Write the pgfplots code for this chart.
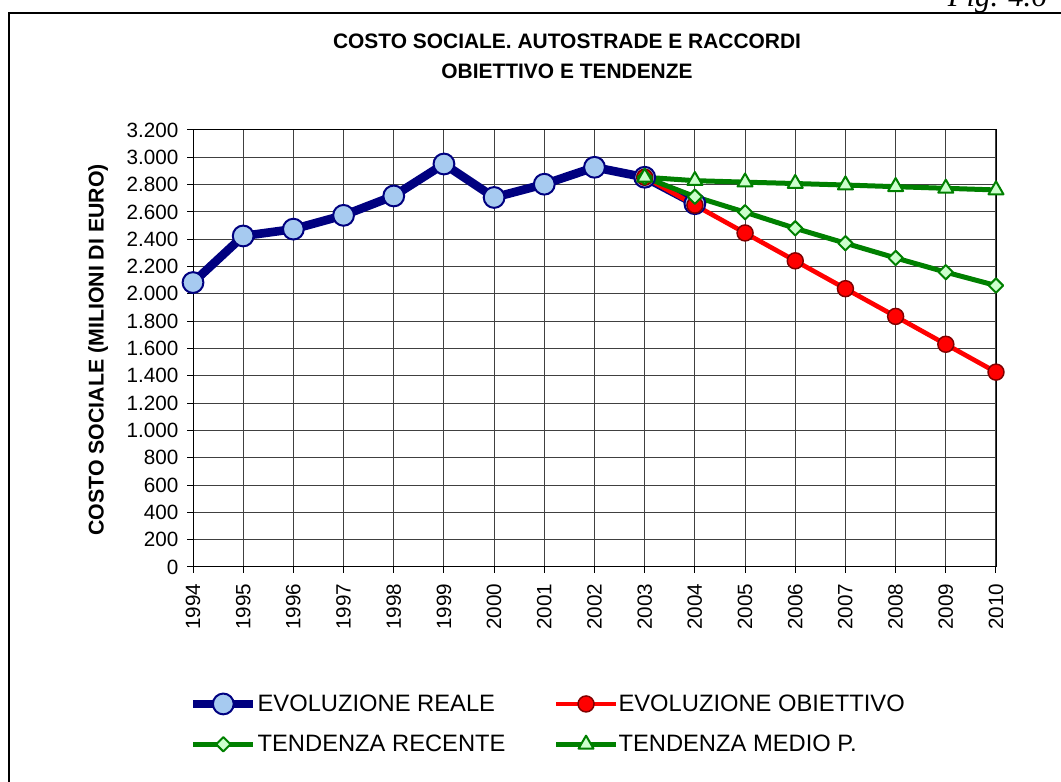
\documentclass[border=0pt]{standalone}
\usepackage{fontspec}
\setmainfont{Liberation Sans}
\newfontfamily\serifit{Liberation Serif}
\usepackage{pgfplots}
\pgfplotsset{compat=1.18}
\definecolor{navy}{RGB}{0,0,128}
\definecolor{lblue}{RGB}{166,202,240}
\definecolor{dred}{RGB}{128,0,0}
\definecolor{xgreen}{RGB}{0,128,0}
\definecolor{lgreen}{RGB}{204,255,204}
\begin{document}
\begin{tikzpicture}[x=0.75pt,y=0.75pt]
\draw[line width=1.75pt] (1075,769) -- (9,769) -- (9,-10);
\node[anchor=base east, font=\serifit\itshape\fontsize{23}{27}\selectfont, inner sep=0pt] at (1047,775) {Fig. 4.6};
\node[anchor=base, inner sep=0pt, font=\bfseries\fontsize{15.7}{19}\selectfont] at (567,733) {COSTO SOCIALE. AUTOSTRADE E RACCORDI};
\node[anchor=base, inner sep=0pt, font=\bfseries\fontsize{15.7}{19}\selectfont] at (567,703.7) {OBIETTIVO E TENDENZE};
\node[anchor=base, rotate=90, inner sep=0pt, font=\bfseries\fontsize{16}{19}\selectfont] at (103.5,432) {COSTO SOCIALE (MILIONI DI EURO)};
\begin{axis}[
  at={(144.75pt,161.25pt)}, anchor=south west,
  scale only axis, width=602.25pt, height=327.75pt,
  xmin=1994, xmax=2010, ymin=0, ymax=3200,
  xtick={1994,...,2010}, ytick={0,200,...,3200},
  tick pos=left,
  grid=major, major grid style={black!75, line width=0.75pt},
  axis line style={black, line width=0.75pt},
  tick align=outside, major tick length=4.5pt, tick style={black, line width=0.75pt},
  /pgf/number format/assume math mode=true,
  xticklabel shift=4.5pt, yticklabel shift=3pt,
  xticklabel style={rotate=90, anchor=east, font=\fontsize{15.5}{18}\selectfont, /pgf/number format/1000 sep={}},
  yticklabel style={font=\fontsize{15.5}{18}\selectfont, /pgf/number format/1000 sep={.}},
  clip=false,
  legend columns=2,
  legend cell align=left,
  legend image code/.code={\draw[mark repeat=2,mark phase=2] plot coordinates {(0pt,0pt) (22.5pt,0pt) (45pt,0pt)};},
  legend style={at={(axis description cs:-0.005,-0.2896)}, anchor=north west, draw=none, fill=none,
    inner sep=0pt, outer sep=0pt, row sep=15.5pt,
    font=\fontsize{17.8}{21}\selectfont,
    nodes={inner sep=0pt},
    /tikz/column 1/.style={column sep=0pt},
    /tikz/column 2/.style={column sep=36pt},
    /tikz/column 3/.style={column sep=0pt}},
]
\addplot[color=navy, line width=6.5pt, line join=round, mark=*, mark size=7.8pt,
  mark options={fill=lblue, draw=navy, line width=1.5pt}] coordinates {
  (1994,2083) (1995,2424) (1996,2474) (1997,2575) (1998,2717) (1999,2951)
  (2000,2706) (2001,2803) (2002,2927) (2003,2854) (2004,2660)};
\addlegendentry{EVOLUZIONE REALE}
\addplot[color=red, line width=3.5pt, line join=round, mark=*, mark size=6pt,
  mark options={fill=red, draw=dred, line width=1.1pt}] coordinates {
  (2003,2854) (2004,2650) (2005,2446) (2006,2242) (2007,2038) (2008,1835) (2009,1631) (2010,1427)};
\addlegendentry{EVOLUZIONE OBIETTIVO}
\addplot[color=xgreen, line width=3.75pt, line join=round, mark=square*, mark size=3.8pt,
  mark options={fill=lgreen, draw=xgreen, line width=1.5pt, rotate=45}] coordinates {
  (2003,2854) (2004,2712) (2005,2598) (2006,2480) (2007,2371) (2008,2263) (2009,2159) (2010,2061)};
\addlegendentry{TENDENZA RECENTE}
\addplot[color=xgreen, line width=3.75pt, line join=round, mark=triangle*, mark size=6.5pt,
  mark options={fill=lgreen, draw=xgreen, line width=1.5pt}] coordinates {
  (2003,2854) (2004,2829) (2005,2818) (2006,2808) (2007,2797) (2008,2785) (2009,2773) (2010,2761)};
\addlegendentry{TENDENZA MEDIO P.}
\end{axis}
\pgfresetboundingbox
\useasboundingbox (0,0) rectangle (1061,782);
\end{tikzpicture}
\end{document}
